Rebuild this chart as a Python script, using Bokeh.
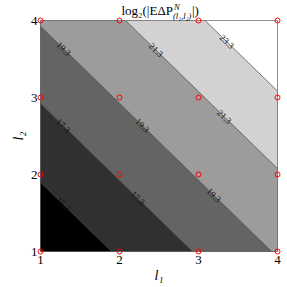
import numpy as np
import contourpy
from bokeh.plotting import figure
from bokeh.models import Range1d, FixedTicker
from bokeh.embed import file_html
from bokeh.resources import INLINE
from bokeh.core.properties import value

# ---- data ----
l1_vals = [1, 2, 3, 4]
l2_vals = [1, 2, 3, 4]
# rows: l2 = 1..4, columns: l1 = 1..4
z_row1 = [13.5, 15.5, 17.45, 19.45]
z_row2 = [15.5, 17.45, 19.45, 21.15]
z_row3 = [17.45, 19.45, 21.15, 23.1]
z_row4 = [19.45, 21.15, 23.1, 25.5]
contour_levels = [15.3, 17.3, 19.3, 21.3, 23.3]
level_labels = ["15.3", "17.3", "19.3", "21.3", "23.3"]
tick_labels = ["1", "2", "3", "4"]

# ---- style / layout ----
fill_colors = ["#000000", "#303030", "#646464", "#9c9c9c", "#d2d2d2", "#ffffff"]
label_fracs = [[0.32], [0.15, 0.64], [0.1, 0.44, 0.75], [0.2, 0.65], [0.3]]
FW, FH = 237, 231
SERIF = "Liberation Serif"

Z = np.array([z_row1, z_row2, z_row3, z_row4], dtype=float)
x = np.array(l1_vals, dtype=float)
y = np.array(l2_vals, dtype=float)
levels = [Z.min() - 0.5] + contour_levels + [Z.max() + 0.5]

p = figure(frame_width=FW, frame_height=FH, output_backend="svg", toolbar_location=None,
           x_range=Range1d(x.min(), x.max()), y_range=Range1d(y.min(), y.max()),
           min_border_left=40, min_border_right=4, min_border_top=20, min_border_bottom=28)
p.grid.visible = False
p.outline_line_color = "#444444"
p.outline_line_width = 0.8

p.contour(x=x, y=y, z=Z, levels=levels, fill_color=fill_colors,
          line_color="#222222", line_width=0.6)

# contour labels
sx = FW / (x.max() - x.min())
sy = FH / (y.max() - y.min())
X, Y = np.meshgrid(x, y)
gen = contourpy.contour_generator(x=X, y=Y, z=Z, line_type="Separate")
lx, ly, lt, la = [], [], [], []
for lev, txt, fracs in zip(contour_levels, level_labels, label_fracs):
    lines = gen.lines(lev)
    if not lines:
        continue
    pts = max(lines, key=len)
    if pts[0, 0] > pts[-1, 0]:
        pts = pts[::-1]
    px = pts[:, 0] * sx
    py = pts[:, 1] * sy
    seg = np.hypot(np.diff(px), np.diff(py))
    cum = np.concatenate([[0], np.cumsum(seg)])
    for f in fracs:
        d = f * cum[-1]
        i = min(np.searchsorted(cum, d) - 1, len(seg) - 1)
        i = max(i, 0)
        t = (d - cum[i]) / seg[i] if seg[i] > 0 else 0
        xx = pts[i, 0] + t * (pts[i + 1, 0] - pts[i, 0])
        yy = pts[i, 1] + t * (pts[i + 1, 1] - pts[i, 1])
        ang = np.arctan2(py[i + 1] - py[i], px[i + 1] - px[i])
        lx.append(xx); ly.append(yy); lt.append(txt); la.append(ang)

p.text(x=lx, y=ly, text=lt, angle=la, text_font=value(SERIF), text_font_size="9px",
       text_align="center", text_baseline="middle", text_color="#111111")

# grid points
r = p.scatter(x=X.ravel(), y=Y.ravel(), marker="circle", size=5, fill_color=None,
              line_color="red", line_width=1)
r.level = "overlay"

for ax in (p.xaxis, p.yaxis):
    ax.major_label_text_font = SERIF
    ax.major_label_text_font_size = "13px"
    ax.major_label_text_color = "black"
    ax.major_tick_out = 0
    ax.major_tick_in = 0
    ax.minor_tick_out = 0
    ax.minor_tick_in = 0
    ax.axis_line_color = None
    ax.axis_label_text_font = SERIF
    ax.axis_label_text_font_style = "italic"
    ax.axis_label_text_font_size = "14px"
    ax.axis_label_text_color = "black"
p.xaxis.ticker = FixedTicker(ticks=l1_vals)
p.yaxis.ticker = FixedTicker(ticks=l2_vals)
p.xaxis.major_label_overrides = {v: s for v, s in zip(l1_vals, tick_labels)}
p.yaxis.major_label_overrides = {v: s for v, s in zip(l2_vals, tick_labels)}
p.xaxis.axis_label = "l₁"
p.yaxis.axis_label = "l₂"
p.xaxis.major_label_standoff = 4
p.yaxis.major_label_standoff = 3
p.xaxis.axis_label_standoff = 1
p.yaxis.axis_label_standoff = 2

# title built from pieces (text glyphs drawn above the frame)
xc = (x.min() + x.max()) / 2
ytop = y.max()
title_parts = [
    ("log₂(|EΔP", 14, -10, "right", "normal", "13px"),
    ("N", 15, -14, "left", "italic", "8.5px"),
    ("(l₁,l₂)", 14, -5, "left", "italic", "8.5px"),
    ("|)", 33, -10, "left", "normal", "13px"),
]
for txt, xo, yo, al, st, fs in title_parts:
    tr = p.text(x=[xc], y=[ytop], text=[txt], x_offset=xo, y_offset=yo,
                text_align=al, text_baseline="middle", text_font=value(SERIF),
                text_font_style=st, text_font_size=fs, text_color="black")
    tr.level = "overlay"

open("out.html", "w").write(file_html(p, INLINE))
